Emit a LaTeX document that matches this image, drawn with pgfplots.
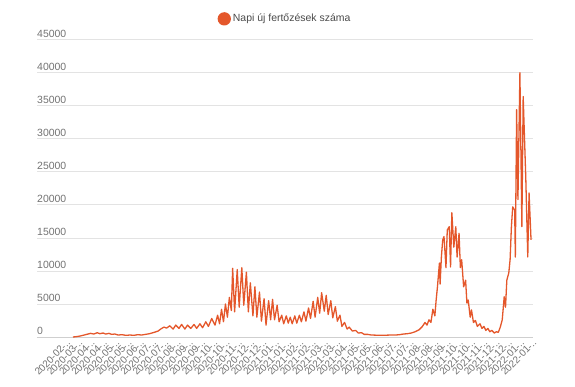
\documentclass[border=0pt]{standalone}
\usepackage{pgfplots}
\pgfplotsset{compat=1.18}
\usepackage{fontspec}
\setmainfont{Liberation Sans}
\definecolor{lineor}{HTML}{E4572B}
\definecolor{tickgray}{HTML}{727272}
\definecolor{legendgray}{HTML}{4A4A4A}
\definecolor{gridgray}{HTML}{E3E3E3}
\definecolor{basegray}{HTML}{CFCFCF}

\pgfplotstableread{
day cases
0 0
5 50
11 150
17 300
23 450
27 550
32 450
37 650
41 500
46 600
50 450
55 550
59 400
64 450
69 300
75 350
81 250
87 300
93 250
99 350
105 300
111 400
117 500
124 700
130 900
134 1200
139 1500
143 1350
148 1700
153 1200
157 1800
162 1300
166 1900
171 1200
175 1800
180 1300
185 1900
189 1300
194 2000
198 1400
203 2300
207 1600
212 2800
217 1800
221 3300
224 2000
227 4200
230 2300
233 5000
236 3000
239 6000
242 4000
244 10400
247 3800
251 10200
254 4500
258 10500
261 4800
265 9800
268 3800
271 8200
275 3200
278 7600
281 3000
285 6800
288 2400
292 5800
295 1800
299 5500
302 2600
305 5700
308 2600
312 4800
315 2300
319 3300
322 2000
326 3200
329 2100
332 3000
335 2000
339 3200
342 2100
346 3300
349 2300
353 3800
356 2400
360 4400
363 2800
367 5400
370 3000
374 6000
377 3600
380 6700
384 3900
387 6300
390 3400
394 5500
397 2900
401 4600
404 2400
408 3300
411 1600
415 2200
419 1200
422 1500
427 900
432 1000
436 600
441 650
445 400
450 400
456 300
462 280
468 250
474 250
480 280
486 300
493 300
499 350
505 450
511 500
517 600
523 800
529 1100
534 1600
538 2200
541 1800
544 2600
547 2200
550 4200
553 3200
555 5600
557 7600
560 11200
561 8000
563 12100
565 14700
567 15200
570 10500
572 16200
575 16700
577 10600
579 18800
582 13600
585 16700
587 12100
590 15700
592 10500
594 11700
597 7600
600 8600
602 5150
604 5600
607 3000
609 4100
612 2200
615 2500
618 1600
622 2000
625 1300
628 1600
631 1000
634 1300
637 800
640 1000
644 600
647 800
650 700
653 1500
656 2600
659 6100
661 4500
663 8600
666 9700
668 11700
670 16700
672 19700
675 19200
676 12100
678 34400
680 20800
683 40000
686 16700
688 36400
692 24000
695 12100
697 21800
700 14700
}\cases

\begin{document}
\begin{tikzpicture}
\useasboundingbox (0,0) rectangle (575bp,387bp);
\begin{axis}[
  at={(37bp,50bp)}, anchor=south west,
  scale only axis, width=496bp, height=297.3bp,
  xmin=-55, xmax=703, ymin=0, ymax=45000,
  ytick={0,5000,...,45000},
  ymajorgrids,
  grid style={color=gridgray, line width=0.8bp},
  axis line style={draw=none},
  major tick length=0pt,
  scaled y ticks=false,
  /pgf/number format/1000 sep={},
  /pgf/number format/assume math mode=true,
  yticklabel style={anchor=south west, inner sep=0pt, yshift=2bp,
    font=\fontsize{10.5}{12}\selectfont, text=tickgray},
  xtick={-11,7.75,26.5,45.25,64,82.75,101.5,120.25,139,157.75,176.5,195.25,214,232.75,251.5,270.25,289,307.75,326.5,345.25,364,382.75,401.5,420.25,439,457.75,476.5,495.25,514,532.75,551.5,570.25,589,607.75,626.5,645.25,664,682.75,701.5},
  xticklabels={2020-02-..,2020-03-..,2020-04-..,2020-04-..,2020-05-..,2020-05-..,2020-06-..,2020-07-..,2020-07-..,2020-08-..,2020-09-..,2020-09-..,2020-10-..,2020-10-..,2020-11-..,2020-12-..,2020-12-..,2021-01-..,2021-01-..,2021-02-..,2021-02-..,2021-03-..,2021-03-..,2021-04-..,2021-05-..,2021-05-..,2021-06-..,2021-07-..,2021-07-..,2021-08-..,2021-08-..,2021-09-..,2021-10-..,2021-10-..,2021-11-..,2021-12-..,2021-12-..,2022-01-..,2022-01-..},
  xticklabel style={rotate=45, anchor=east, inner sep=1bp, yshift=-5bp,
    font=\fontsize{10}{12}\selectfont, text=tickgray},
  legend style={at={(0.5,1)}, anchor=south, yshift=12bp, draw=none, fill=none,
    font=\fontsize{10.5}{12}\selectfont, text=legendgray},
  legend image code/.code={\fill[lineor] (0bp,0bp) circle (6bp);},
  clip=false,
]
\draw[basegray, line width=0.8bp] (axis cs:-55,0) -- (axis cs:703,0);
\addplot[lineor, line width=1.3bp, line join=round, mark=none] table[x=day, y=cases] {\cases};
\addlegendentry{Napi új fertőzések száma}
\end{axis}
\end{tikzpicture}
\end{document}
